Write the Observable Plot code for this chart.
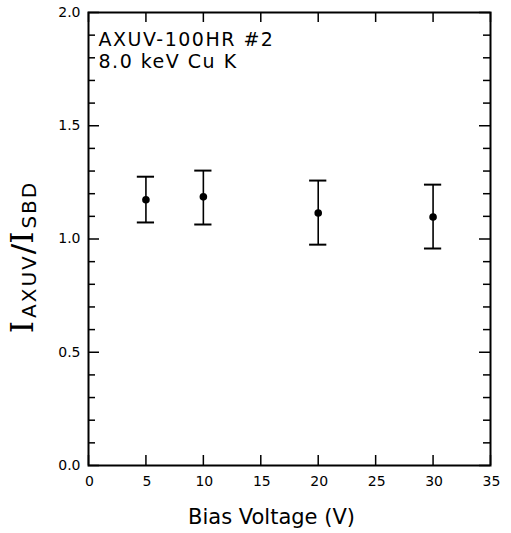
<!DOCTYPE html>
<html><head><meta charset="utf-8">
<script src="https://cdn.jsdelivr.net/npm/d3@7"></script>
<script src="https://cdn.jsdelivr.net/npm/@observablehq/plot@0.6"></script>
<style>
html,body{margin:0;padding:0;background:#fff;}
svg{font-family:"DejaVu Sans",sans-serif;}
</style></head>
<body><div id="chart"></div>
<script>
const biasVoltage = [5, 10, 20, 30];
const ratio = [1.173, 1.186, 1.115, 1.097];
const ratioLow = [1.073, 1.064, 0.975, 0.958];
const ratioHigh = [1.275, 1.302, 1.258, 1.240];
const xTicks = [0, 5, 10, 15, 20, 25, 30, 35];
const yMajor = [0, 0.5, 1.0, 1.5, 2.0];
const yMinor = [0.1,0.2,0.3,0.4,0.6,0.7,0.8,0.9,1.1,1.2,1.3,1.4,1.6,1.7,1.8,1.9];
const annotation = ["AXUV-100HR #2", "8.0 keV Cu K"];
const xLabel = "Bias Voltage (V)";

const data = biasVoltage.map((v, i) => ({x: v, y: ratio[i], lo: ratioLow[i], hi: ratioHigh[i]}));

const W = 511, H = 533;
const mL = 88, mR = 21, mT = 12, mB = 68;
const pw = W - mL - mR, ph = H - mT - mB;
const capHalf = 0.75;

const plot = Plot.plot({
  width: W, height: H,
  marginLeft: mL, marginRight: mR, marginTop: mT, marginBottom: mB,
  style: {fontFamily: "'DejaVu Sans', sans-serif", background: "#fff", color: "#000"},
  x: {domain: [0, 35]},
  y: {domain: [0, 2]},
  marks: [
    Plot.tickX(xTicks, {x: d => d, insetTop: ph - 10, stroke: "#000", strokeWidth: 1.5}),
    Plot.tickX(xTicks, {x: d => d, insetBottom: ph - 10, stroke: "#000", strokeWidth: 1.5}),
    Plot.tickY(yMajor, {y: d => d, insetRight: pw - 11, stroke: "#000", strokeWidth: 1.5}),
    Plot.tickY(yMinor, {y: d => d, insetRight: pw - 7, stroke: "#000", strokeWidth: 1.5}),
    Plot.tickY(yMajor, {y: d => d, insetLeft: pw - 11, stroke: "#000", strokeWidth: 1.5}),
    Plot.tickY(yMinor, {y: d => d, insetLeft: pw - 7, stroke: "#000", strokeWidth: 1.5}),
    Plot.axisX(xTicks, {anchor: "bottom", tickSize: 0, tickPadding: 11, fontSize: 14, label: null, style: {letterSpacing: "2.5px"}, dx: 1}),
    Plot.axisY(yMajor, {anchor: "left", tickSize: 0, tickPadding: 8, fontSize: 14, label: null, tickFormat: d3.format(".1f"), style: {letterSpacing: "3px"}}),
    Plot.frame({stroke: "#000", strokeWidth: 2}),
    Plot.ruleX(data, {x: "x", y1: "lo", y2: "hi", stroke: "#000", strokeWidth: 1.6}),
    Plot.ruleY(data, {y: "hi", x1: d => d.x - capHalf, x2: d => d.x + capHalf, stroke: "#000", strokeWidth: 2}),
    Plot.ruleY(data, {y: "lo", x1: d => d.x - capHalf, x2: d => d.x + capHalf, stroke: "#000", strokeWidth: 2}),
    Plot.dot(data, {x: "x", y: "y", r: 3.8, fill: "#000", stroke: "none"}),
    Plot.text(annotation, {text: d => d, frameAnchor: "top-left", textAnchor: "start",
      fontSize: 19, fill: "#000", lineAnchor: "middle"}),
    Plot.text([xLabel], {text: d => d, frameAnchor: "bottom", dx: -18, dy: 58, fontSize: 21, fill: "#000", style: {letterSpacing: "1.3px"}})
  ]
});

const svg = d3.select(plot);
svg.selectAll("g[aria-label='text']").filter((d, i) => i === 0).selectAll("text")
  .attr("transform", (d, i) => `translate(${mL + 10},${[39, 61][i]})`)
  .style("letter-spacing", "1.5px");

// y-axis label with subscripts
const yl = svg.append("text")
  .attr("transform", `translate(33,${mT + 245}) rotate(-90)`)
  .attr("text-anchor", "middle")
  .attr("fill", "#000")
  .attr("font-size", 31);
yl.append("tspan").attr("font-family", "'DejaVu Serif', serif").style("letter-spacing", "3px").text("I");
yl.append("tspan").attr("font-size", 20).attr("dy", 3).style("letter-spacing", "2px").text("AXUV");
yl.append("tspan").attr("dy", -3).text("/");
yl.append("tspan").attr("font-family", "'DejaVu Serif', serif").style("letter-spacing", "3px").text("I");
yl.append("tspan").attr("font-size", 20).attr("dy", 3).style("letter-spacing", "2px").text("SBD");

document.getElementById("chart").appendChild(plot);
</script></body></html>
